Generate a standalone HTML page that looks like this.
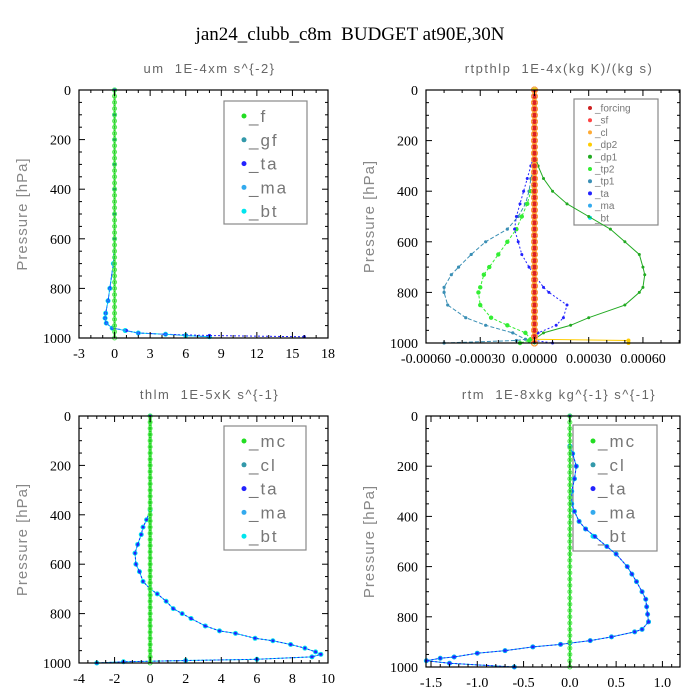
<!DOCTYPE html>
<html><head><meta charset="utf-8"><style>
body{margin:0;background:#fff}
svg{display:block}
.tk{font-family:"Liberation Serif",serif;font-size:14px;fill:#000}
.st{font-family:"Liberation Sans",sans-serif;font-size:13px;fill:#666;letter-spacing:1.5px;white-space:pre}
.yl{font-family:"Liberation Sans",sans-serif;font-size:15px;fill:#888;letter-spacing:1px}
</style></head><body>
<svg id="c" width="700" height="700">
<text x="350" y="40" text-anchor="middle" font-family="Liberation Serif,serif" font-size="19" style="white-space:pre">jan24_clubb_c8m  BUDGET at90E,30N</text>
</svg>
<script>
// ---------- data ----------
const umP   = [0,100,200,300,400,500,600,700,800,850,900,920,940,960,970,980,985,990,995];
const umTa  = [0,0,0,0,0,0,0,-0.1,-0.4,-0.55,-0.75,-0.8,-0.7,-0.2,1,2,4.3,8,16];
const umBt  = [0,0,0,0,0,0,0,-0.1,-0.4,-0.55,-0.75,-0.8,-0.7,-0.2,0.9,2,4.3,6,8];
const rtP    = [0,250,300,350,400,450,500,550,600,650,700,730,780,800,850,900,930,960,985,990,1000];
const rtDp1  = [0,0,0.00002,0.00005,0.0001,0.00018,0.0003,0.00042,0.0005,0.00058,0.0006,0.00061,0.0006,0.00058,0.0005,0.0003,0.0002,0.00005,0,0,0];
const rtTp1  = [0,0,0,-0.00002,-0.00003,-0.00005,-0.00009,-0.00015,-0.00027,-0.00035,-0.00042,-0.00046,-0.0005,-0.0005,-0.00048,-0.00038,-0.00027,-0.00012,-0.00005,-0.0001,-0.0005];
const rtTp2  = [0,0,0,0,-0.00002,-0.00004,-0.00007,-0.0001,-0.00015,-0.0002,-0.00025,-0.00028,-0.0003,-0.00031,-0.0003,-0.00024,-0.00015,-0.00005,-0.00002,-0.00003,-0.00008];
const rtTa   = [0,0,-0.00002,-0.00004,-0.00006,-0.00008,-0.0001,-0.00011,-0.00009,-0.00007,-0.00003,0,0.00005,0.00008,0.00018,0.00016,0.00012,0.00002,0,0,0.0001];
const rtDp2  = [0,0,0,0,0,0,0,0,0,0,0,0,0,0,0,0,0,0,0,0.00052,0.00052];
const thP   = [0,380,420,450,480,520,555,600,630,670,700,720,750,780,800,820,850,870,880,900,910,925,940,955,965,975,985,990,995,1000];
const thTa  = [0,0,-0.2,-0.4,-0.5,-0.7,-0.85,-0.8,-0.6,-0.4,0,0.4,0.9,1.3,1.8,2.3,3.1,3.9,4.8,5.9,6.9,7.9,8.7,9.3,9.6,9.1,6,2,-1.5,-3.0];
const rmP   = [0,120,150,200,250,300,350,380,420,450,480,520,550,600,630,660,700,730,760,790,820,850,860,880,895,905,910,920,935,945,960,965,975,985,1000];
const rmTa  = [0,0,0.03,0.07,0.05,0.02,0.02,0.05,0.1,0.17,0.27,0.4,0.5,0.62,0.67,0.72,0.78,0.82,0.83,0.84,0.85,0.78,0.7,0.45,0.22,0,-0.1,-0.4,-0.7,-1.0,-1.25,-1.4,-1.55,-1.3,-0.6];
const umXT = [-3,0,3,6,9,12,15,18];
const rtXT = [-0.0006,-0.0003,0,0.0003,0.0006];
const rtXL = ["-0.00060","-0.00030","0.00000","0.00030","0.00060"];
const thXT = [-4,-2,0,2,4,6,8,10];
const rmXT = [-1.5,-1.0,-0.5,0.0,0.5,1.0];
const rmXL = ["-1.5","-1.0","-0.5","0.0","0.5","1.0"];
const pTicks = [0,200,400,600,800,1000];
// ---------- drawing ----------
const NS="http://www.w3.org/2000/svg", svg=document.getElementById('c');
function mk(t,a,p){const e=document.createElementNS(NS,t);for(const k in a)e.setAttribute(k,a[k]);(p||svg).appendChild(e);return e;}
const zeroP=[];for(let p=0;p<=1000;p+=25)zeroP.push(p);
function panel(cfg){
  const g=mk('g',{});
  
  
  const X=v=>cfg.x0+(v-cfg.xmin)/(cfg.xmax-cfg.xmin)*(cfg.x1-cfg.x0);
  const Y=p=>cfg.y0+p/1000*(cfg.y1-cfg.y0);
  const t=mk('text',{x:(cfg.x0+cfg.x1)/2+6,y:cfg.y0-17,'text-anchor':'middle',class:'st'},g);t.textContent=cfg.title;
  
  const yl=mk('text',{transform:`translate(${cfg.x0-52},${(cfg.y0+cfg.y1)/2}) rotate(-90)`,'text-anchor':'middle',class:'yl'},g);yl.textContent='Pressure [hPa]';
  
  // legend (drawn first, unfilled, so curves pass over it)
  const L=cfg.leg;const lb=mk('rect',{x:L.x,y:L.y,width:L.w,height:L.h,fill:'none',stroke:'#888','stroke-width':1.2},g);
  
  L.items.forEach((it,i)=>{const yy=L.y+L.first+i*L.dy;
    const m=mk('circle',{cx:L.x+L.mx,cy:yy,r:L.fs>12?2.5:2,fill:it[1]},g);
    const e=mk('text',{x:L.x+L.mx+5,y:yy+L.fs*0.35,'font-family':'Liberation Sans,sans-serif','font-size':L.fs,fill:'#777','letter-spacing':L.fs>12?2:0},g);e.textContent=it[0];
    });
  // series
  cfg.series.forEach(s=>{
    const pts=s.p.map((p,i)=>X(s.v[i])+','+Y(p)).join(' ');
    const l=mk('polyline',{points:pts,fill:'none',stroke:s.c,'stroke-width':s.w||1,'stroke-dasharray':s.d||''},g);
    
    s.p.forEach((p,i)=>{const m=mk('circle',{cx:X(s.v[i]),cy:Y(p),r:s.r||2,fill:s.c},g);
      });
  });
  // zero lines
  cfg.zero.forEach(z=>{
    const l=mk('line',{x1:X(0),x2:X(0),y1:cfg.y0,y2:cfg.y1,stroke:z.c,'stroke-width':z.w},g);
    
    zeroP.forEach(p=>{const m=mk('circle',{cx:X(0),cy:Y(p),r:z.r,fill:'none',stroke:z.m,'stroke-width':1},g);
      });
  });
  // frame
  const f=mk('rect',{x:cfg.x0,y:cfg.y0,width:cfg.x1-cfg.x0,height:cfg.y1-cfg.y0,fill:'none',stroke:'#000','stroke-width':1.2},g);
  
  for(let p=0;p<=1000;p+=50){const Lt=p%200==0?6:3;
    mk('line',{x1:cfg.x0,x2:cfg.x0+Lt,y1:Y(p),y2:Y(p),stroke:'#000'},g);mk('line',{x1:cfg.x1,x2:cfg.x1-Lt,y1:Y(p),y2:Y(p),stroke:'#000'},g);}
  pTicks.forEach(p=>{const e=mk('text',{x:cfg.x0-8,y:Y(p)+5,'text-anchor':'end',class:'tk'},g);e.textContent=p;
    });
  const step=(cfg.xt[1]-cfg.xt[0])/cfg.minor;
  for(let v=cfg.xt[0];v<=cfg.xmax+1e-12;v+=step){const xx=X(v);if(xx<cfg.x0-0.5||xx>cfg.x1+0.5)continue;
    const major=Math.abs(Math.round((v-cfg.xt[0])/step)%cfg.minor)==0;const Lt=major?6:3;
    mk('line',{x1:xx,x2:xx,y1:cfg.y1,y2:cfg.y1-Lt,stroke:'#000'},g);mk('line',{x1:xx,x2:xx,y1:cfg.y0,y2:cfg.y0+Lt,stroke:'#000'},g);}
  cfg.xt.forEach((v,i)=>{const e=mk('text',{x:X(v),y:cfg.y1+20,'text-anchor':'middle',class:'tk'},g);e.textContent=cfg.xl?cfg.xl[i]:v;
    });
}
panel({name:'um-panel',title:'um  1E-4xm s^{-2}',x0:79,x1:328,y0:90,y1:338,xmin:-3,xmax:18,xt:umXT,minor:3,
  series:[{p:umP,v:umBt,c:'#00e5ee',r:2.5},{p:umP,v:umTa,c:'#2222ff',d:'2,2',r:1.6},{p:umP,v:umBt,c:'#1e90ff',d:'4,2',r:1}],
  zero:[{c:'#22cc22',w:2,r:2,m:'#55ee55'}],
  leg:{x:224,y:101,w:83,h:123,first:15,dy:23.8,mx:20,fs:17,items:[['_f','#22dd22'],['_gf','#3399aa'],['_ta','#2222ff'],['_ma','#33aaee'],['_bt','#00e5ee']]}});
panel({name:'rtpthlp-panel',title:'rtpthlp  1E-4x(kg K)/(kg s)',x0:426,x1:680,y0:90,y1:343,xmin:-0.0006,xmax:0.000805,xt:rtXT,xl:rtXL,minor:3,
  series:[{p:rtP,v:rtDp1,c:'#22aa22',r:1.5},{p:rtP,v:rtTp1,c:'#3a8fb5',d:'4,2',r:1.6},{p:rtP,v:rtTp2,c:'#33ee33',d:'3,2',r:2.2},{p:rtP,v:rtTa,c:'#2222ff',d:'2,2',r:1.5},{p:rtP,v:rtDp2,c:'#ffcc00',r:2}],
  zero:[{c:'#000',w:1.5,r:3,m:'#ee2222'},{c:'#dd2222',w:4,r:3,m:'#ffaa33'}],
  leg:{x:574,y:99,w:84,h:126,first:9,dy:12.2,mx:16,fs:10,items:[['_forcing','#cc2222'],['_sf','#ff4444'],['_cl','#ffaa33'],['_dp2','#ffcc00'],['_dp1','#22aa22'],['_tp2','#33ee33'],['_tp1','#3a8fb5'],['_ta','#2222ff'],['_ma','#33aaee'],['_bt','#00e5ee']]}});
panel({name:'thlm-panel',title:'thlm  1E-5xK s^{-1}',x0:79,x1:328,y0:416,y1:663,xmin:-4,xmax:10,xt:thXT,minor:4,
  series:[{p:thP,v:thTa,c:'#00e5ee',r:2.5},{p:thP,v:thTa,c:'#2222ff',d:'2,2',r:1.5}],
  zero:[{c:'#22cc22',w:3,r:2,m:'#55ee55'}],
  leg:{x:224,y:426,w:82,h:124,first:15,dy:23.8,mx:20,fs:17,items:[['_mc','#22dd22'],['_cl','#3399aa'],['_ta','#2222ff'],['_ma','#33aaee'],['_bt','#00e5ee']]}});
panel({name:'rtm-panel',title:'rtm  1E-8xkg kg^{-1} s^{-1}',x0:426,x1:680,y0:416,y1:667,xmin:-1.554,xmax:1.19,xt:rmXT,xl:rmXL,minor:5,
  series:[{p:rmP,v:rmTa,c:'#00b0f0',r:2.5},{p:rmP,v:rmTa,c:'#2222ff',d:'2,2',r:1.5}],
  zero:[{c:'#22cc22',w:2,r:2,m:'#55ee55'}],
  leg:{x:573,y:425,w:84,h:126,first:16,dy:23.8,mx:20,fs:17,items:[['_mc','#22dd22'],['_cl','#3399aa'],['_ta','#2222ff'],['_ma','#33aaee'],['_bt','#00e5ee']]}});
</script>
</body></html>
